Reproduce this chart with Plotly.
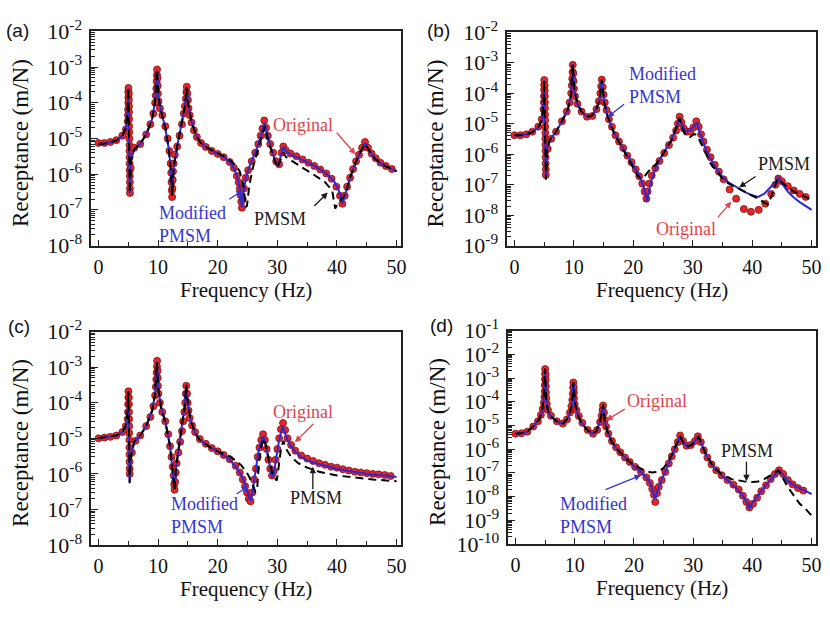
import plotly.graph_objects as go

# ---------------- data (frequency Hz, receptance m/N) ----------------
# panel (a)
a_original = [(0,7.5e-6),(1,7.5e-6),(2,8e-6),(3,9e-6),(4,1.2e-5),(4.6,1.8e-5),
 (4.9,3e-5),(4.95,4.5e-5),(4.97,6.5e-5),(5.0,1e-4),(5.0,1.4e-4),(5.0,2e-4),(5.02,2.6e-4),
 (5.1,1.8e-4),(5.1,1.2e-4),(5.12,8e-5),(5.12,5.5e-5),(5.14,3.5e-5),(5.15,2.2e-5),(5.16,1.5e-5),
 (5.18,1e-5),(5.2,6.5e-6),(5.2,4.5e-6),(5.22,3e-6),(5.22,2e-6),(5.24,1.3e-6),(5.25,9e-7),
 (5.26,6e-7),(5.27,4e-7),(5.28,3e-7),(5.4,1.5e-6),(6,5.5e-6),(7,7e-6),(8,1.3e-5),(8.7,2.5e-5),
 (9.2,5e-5),(9.5,1e-4),(9.6,1.6e-4),(9.7,2.5e-4),(9.75,4e-4),(9.8,6e-4),(9.82,8.5e-4),(9.9,5e-4),
 (9.93,3e-4),(9.96,1.8e-4),(10.05,1.1e-4),(10.3,7e-5),(10.7,4.5e-5),(11.2,2.2e-5),(11.6,1e-5),
 (11.9,4.5e-6),(12.1,2e-6),(12.2,1.1e-6),(12.25,6e-7),(12.3,3.5e-7),(12.35,2.3e-7),(12.4,4e-7),
 (12.45,7e-7),(12.5,1.2e-6),(12.6,2e-6),(12.8,3.5e-6),(13.2,6e-6),(13.6,1.2e-5),(14,2.5e-5),
 (14.3,5e-5),(14.5,8e-5),(14.65,1.3e-4),(14.75,2e-4),(14.8,2.8e-4),(14.9,1.8e-4),(15,1.2e-4),
 (15.1,7e-5),(15.3,4.5e-5),(15.6,2.8e-5),(16,1.7e-5),(16.5,1.1e-5),(17.2,7.5e-6),(18,5.8e-6),
 (19,4.5e-6),(20,3.7e-6),(21,3e-6),(22,2.2e-6),(22.7,1.5e-6),(23.2,9e-7),(23.5,6e-7),(23.7,4e-7),
 (23.85,2.6e-7),(23.95,1.7e-7),(24.05,1.15e-7),(24.2,2e-7),(24.4,4e-7),(24.7,8e-7),(25.1,1.3e-6),
 (25.7,2.3e-6),(26.3,4e-6),(26.8,7e-6),(27.2,1.2e-5),(27.5,1.9e-5),(27.8,3.2e-5),(28.1,2e-5),
 (28.4,1.2e-5),(28.8,7e-6),(29.3,4e-6),(29.8,2.3e-6),(30.3,1.9e-6),(30.7,4e-6),(31,6e-6),
 (31.4,4.7e-6),(32.2,3.8e-6),(33.2,3.2e-6),(34.2,2.6e-6),(35.2,2.1e-6),(36.2,1.7e-6),(37.2,1.35e-6),
 (38.2,1.05e-6),(39.1,7.5e-7),(39.9,4.5e-7),(40.5,2.5e-7),(40.9,1.5e-7),(41.3,2.5e-7),(41.7,4.5e-7),
 (42.2,8e-7),(42.7,1.4e-6),(43.2,2.3e-6),(43.7,3.5e-6),(44.2,5.5e-6),(44.7,8e-6),(45.2,5.5e-6),
 (45.8,3.8e-6),(46.5,2.8e-6),(47.3,2.1e-6),(48.2,1.7e-6),(49.2,1.4e-6)]
a_modified = [(0,7e-6),(1,7.2e-6),(2,7.8e-6),(3,8.8e-6),(4,1.2e-5),(4.6,2e-5),(4.9,6e-5),(5.0,2.5e-4),
 (5.1,2e-5),(5.25,3e-7),(5.45,2.5e-6),(6,5e-6),(7,7e-6),(8,1.3e-5),(9,3.5e-5),(9.5,1.1e-4),(9.8,8e-4),
 (10.1,1.3e-4),(10.6,5e-5),(11.2,2e-5),(11.8,5e-6),(12.15,1.2e-6),(12.35,2.5e-7),(12.6,1.5e-6),
 (13.2,6e-6),(14,3e-5),(14.5,8e-5),(14.8,2.6e-4),(15.1,8e-5),(15.6,3e-5),(16.3,1.3e-5),(17,8e-6),
 (18,5.8e-6),(19,4.6e-6),(20,3.8e-6),(21,3e-6),(22,2.2e-6),(22.8,1.4e-6),(23.4,7e-7),(23.8,3e-7),
 (24.05,1.2e-7),(24.3,3e-7),(24.8,9e-7),(25.5,2e-6),(26.5,5e-6),(27.3,1.3e-5),(27.8,2.8e-5),
 (28.3,1.3e-5),(29,5e-6),(29.7,2.3e-6),(30.2,1.7e-6),(30.6,3.5e-6),(31,5.8e-6),(31.5,4.3e-6),
 (32.5,3.4e-6),(34,2.6e-6),(36,1.8e-6),(38,1.1e-6),(39.5,6.5e-7),(40.3,3.5e-7),(40.9,1.5e-7),
 (41.4,2.8e-7),(42.3,9e-7),(43.3,2.5e-6),(44,4.5e-6),(44.7,7.5e-6),(45.4,4.5e-6),(46.3,2.8e-6),
 (47.5,1.9e-6),(48.7,1.5e-6),(50,1.2e-6)]
a_pmsm = [(0,7e-6),(1,7.2e-6),(2,7.8e-6),(3,8.8e-6),(4,1.2e-5),(4.6,2e-5),(4.9,6e-5),(5.0,2.6e-4),
 (5.1,2e-5),(5.25,3e-7),(5.45,2.5e-6),(6,5e-6),(7,7e-6),(8,1.3e-5),(9,3.5e-5),(9.5,1.1e-4),(9.8,8.5e-4),
 (10.1,1.3e-4),(10.6,5e-5),(11.2,2e-5),(11.8,5e-6),(12.15,1.2e-6),(12.35,2.5e-7),(12.6,1.5e-6),
 (13.2,6e-6),(14,3e-5),(14.5,8e-5),(14.8,2.7e-4),(15.1,8e-5),(15.6,3e-5),(16.3,1.3e-5),(17,8e-6),
 (18,5.8e-6),(19,4.7e-6),(20,3.9e-6),(21,3.2e-6),(22,2.5e-6),(23,1.8e-6),(23.7,1.2e-6),(24.2,6e-7),
 (24.5,2.5e-7),(24.7,1.2e-7),(24.9,1.3e-7),(25.3,5e-7),(26,1.8e-6),(26.8,5e-6),(27.4,1.2e-5),
 (27.9,2.2e-5),(28.4,9e-6),(29.2,3.5e-6),(30,1.5e-6),(30.4,2.2e-6),(31,4e-6),(31.5,3e-6),
 (32.5,2.3e-6),(34,1.6e-6),(36,1e-6),(38,6e-7),(39.2,3.5e-7),(39.7,1.1e-7),(40.2,1.6e-7),(41,2.2e-7),
 (41.5,3e-7),(42.3,9e-7),(43.3,2.5e-6),(44,4.5e-6),(44.7,7e-6),(45.4,4.5e-6),(46.3,2.8e-6),
 (47.5,1.9e-6),(48.7,1.5e-6),(50,1.2e-6)]

# panel (b)
b_original = [(0,4.2e-6),(1,4.2e-6),(2,4.5e-6),(3,5.5e-6),(4,8e-6),(4.6,1.4e-5),
 (4.9,3e-5),(4.95,5e-5),(4.97,8e-5),(5.0,1.3e-4),(5.0,1.9e-4),(5.02,2.7e-4),(5.1,1.8e-4),(5.1,1.2e-4),
 (5.12,8e-5),(5.13,5e-5),(5.14,3.2e-5),(5.15,2e-5),(5.16,1.3e-5),(5.18,8e-6),(5.2,5e-6),(5.2,3.2e-6),
 (5.22,2e-6),(5.23,1.3e-6),(5.24,8e-7),(5.25,5e-7),(5.27,3.2e-7),(5.28,2.1e-7),(5.6,1.5e-6),
 (6.2,3.2e-6),(7,5.5e-6),(8,1.2e-5),(8.8,2.5e-5),(9.3,5e-5),(9.55,1e-4),(9.65,1.8e-4),(9.72,3e-4),
 (9.78,5e-4),(9.82,8.5e-4),(9.9,4.5e-4),(9.95,2.5e-4),(10.02,1.4e-4),(10.2,8e-5),(10.6,4.5e-5),
 (11.3,2.5e-5),(12.2,1.7e-5),(13.1,1.8e-5),(13.8,3e-5),(14.2,5.5e-5),(14.45,1e-4),(14.6,1.7e-4),
 (14.7,2.8e-4),(14.85,1.6e-4),(15,9e-5),(15.2,5e-5),(15.5,2.8e-5),(15.9,1.4e-5),(16.4,8e-6),
 (17,4.2e-6),(17.6,2.6e-6),(18.3,1.6e-6),(19,9e-7),(19.7,5.5e-7),(20.4,3.2e-7),(21,1.9e-7),
 (21.5,1.1e-7),(21.9,6e-8),(22.2,3.5e-8),(22.4,6e-8),(22.7,1.1e-7),(23.1,2e-7),(23.7,3.5e-7),
 (24.4,6e-7),(25.2,1.1e-6),(26,2e-6),(26.7,3.5e-6),(27.2,6e-6),(27.5,1e-5),(27.8,1.7e-5),(28.1,1.1e-5),
 (28.5,7e-6),(29,5.5e-6),(29.6,5.5e-6),(30.1,7.5e-6),(30.6,1.2e-5),(31,8e-6),(31.4,4.5e-6),
 (31.8,2.6e-6),(32.4,1.4e-6),(33,8e-7),(33.7,4.5e-7),(34.4,2.7e-7),(35.2,1.5e-7),(36.2,7e-8),
 (37.3,3.5e-8),(38.6,1.6e-8),(39.8,1.3e-8),(41.1,1.5e-8),(42.2,2.4e-8),(43.2,5e-8),(43.9,1e-7),
 (44.4,1.6e-7),(45,1.3e-7),(46,9e-8),(47,6.5e-8),(48,5e-8),(49,4e-8)]
b_modified = [(0,4.2e-6),(1,4.2e-6),(2,4.5e-6),(3,5.3e-6),(4,7.5e-6),(4.6,1.3e-5),(4.9,5e-5),(5.0,2.6e-4),
 (5.1,2e-5),(5.3,1.5e-7),(5.5,1.5e-6),(6,3e-6),(7,5.5e-6),(8,1.2e-5),(9,3e-5),(9.5,8e-5),(9.8,9e-4),
 (10.1,1.2e-4),(10.6,4.5e-5),(11.3,2.5e-5),(12.2,1.7e-5),(13,1.8e-5),(13.8,3e-5),(14.3,6e-5),
 (14.7,2.7e-4),(15.1,5e-5),(15.6,2e-5),(16.3,8e-6),(17,4.2e-6),(18,1.9e-6),(19,9e-7),(20,4.3e-7),
 (21,2e-7),(21.7,9e-8),(22.1,4.5e-8),(22.3,2.8e-8),(22.6,6e-8),(23,1.3e-7),(23.5,2.5e-7),(24.4,6.5e-7),
 (25.3,1.3e-6),(26.2,2.5e-6),(27,5.5e-6),(27.5,1e-5),(27.8,1.6e-5),(28.2,9e-6),(28.8,5.5e-6),
 (29.5,6e-6),(30.2,8e-6),(30.7,1.1e-5),(31.2,5e-6),(32,1.8e-6),(33,7e-7),(34,3.3e-7),(35,1.8e-7),
 (36,1.2e-7),(37,9e-8),(38,7e-8),(39,5.5e-8),(40,4.5e-8),(41,4e-8),(42,5e-8),(43,8e-8),(44,1.3e-7),
 (44.4,1.8e-7),(45,1.1e-7),(46,6e-8),(47,3.8e-8),(48,2.7e-8),(49,2e-8),(50,1.5e-8)]
b_pmsm = [(0,4.2e-6),(1,4.2e-6),(2,4.5e-6),(3,5.3e-6),(4,7.5e-6),(4.6,1.3e-5),(4.9,5e-5),(5.0,2.7e-4),
 (5.1,2e-5),(5.3,1.5e-7),(5.5,1.5e-6),(6,3e-6),(7,5.5e-6),(8,1.2e-5),(9,3e-5),(9.5,8e-5),(9.8,9e-4),
 (10.1,1.2e-4),(10.6,4.5e-5),(11.3,2.5e-5),(12.2,1.7e-5),(13,1.8e-5),(13.8,3e-5),(14.3,6e-5),
 (14.7,2.8e-4),(15.1,5e-5),(15.6,2e-5),(16.3,8e-6),(17,4e-6),(18,1.8e-6),(19,8e-7),(20,3.5e-7),
 (20.7,2e-7),(21.3,1.6e-7),(21.8,1.8e-7),(22.5,2.7e-7),(23.5,4e-7),(24.5,7e-7),(25.5,1.4e-6),
 (26.5,3e-6),(27.2,7e-6),(27.8,1.5e-5),(28.3,7e-6),(28.8,4e-6),(29.5,3.6e-6),(30.3,4.6e-6),(30.8,4e-6),
 (31.5,2e-6),(32.2,1e-6),(33,5e-7),(34,2.8e-7),(35,1.6e-7),(36,1.1e-7),(37,8.5e-8),(38,7e-8),
 (39,5.5e-8),(40,4.5e-8),(41,3.5e-8),(42,2.6e-8),(42.6,2.3e-8),(43.2,4e-8),(43.8,9e-8),(44.3,1.6e-7),
 (45,1.2e-7),(46,8e-8),(47,6e-8),(48,4.8e-8),(49,3.8e-8),(50,3.2e-8)]

# panel (c)
c_original = [(0,1e-5),(1,1.05e-5),(2,1.1e-5),(3,1.2e-5),(4,1.5e-5),(4.6,2.2e-5),
 (4.9,3.5e-5),(4.95,5.5e-5),(4.98,9e-5),(5.0,1.4e-4),(5.02,2.1e-4),(5.1,1.4e-4),(5.11,9e-5),
 (5.12,5.5e-5),(5.14,3.5e-5),(5.15,2.2e-5),(5.16,1.4e-5),(5.18,9e-6),(5.19,5.5e-6),(5.2,3.5e-6),
 (5.21,2.2e-6),(5.22,1.4e-6),(5.23,1e-6),(5.6,4e-6),(6.2,8.5e-6),(7,1.2e-5),(8,2.2e-5),(8.7,4e-5),
 (9.2,8e-5),(9.5,1.6e-4),(9.62,2.8e-4),(9.7,4.5e-4),(9.76,7e-4),(9.8,1.05e-3),(9.83,1.5e-3),
 (9.9,8e-4),(9.93,5e-4),(9.97,3e-4),(10.05,1.8e-4),(10.3,1e-4),(10.7,5.5e-5),(11.2,3e-5),
 (11.7,1.3e-5),(12,6e-6),(12.25,3e-6),(12.45,1.6e-6),(12.6,9e-7),(12.7,5e-7),(12.75,3.6e-7),
 (12.85,6e-7),(12.95,1.1e-6),(13.1,2e-6),(13.4,4e-6),(13.7,8e-6),(14,1.6e-5),(14.2,3e-5),
 (14.4,5.5e-5),(14.55,1e-4),(14.65,1.8e-4),(14.72,3e-4),(14.85,1.8e-4),(14.95,1e-4),(15.1,6e-5),
 (15.3,3.7e-5),(15.7,2.3e-5),(16.2,1.5e-5),(17,9.5e-6),(18,7e-6),(19,5.3e-6),(20,4.3e-6),(21,3.4e-6),
 (22,2.6e-6),(23,1.7e-6),(23.7,1.1e-6),(24.2,7e-7),(24.6,4.5e-7),(24.9,3e-7),(25.2,2e-7),(25.5,1.7e-7),
 (25.8,3e-7),(26.1,7e-7),(26.4,1.4e-6),(26.7,3e-6),(27,5.5e-6),(27.3,9e-6),(27.6,1.3e-5),(27.9,9e-6),
 (28.2,5e-6),(28.5,2.5e-6),(28.8,1.4e-6),(29.1,9e-7),(29.4,1.2e-6),(29.7,2.5e-6),(30,5e-6),
 (30.3,1e-5),(30.6,1.8e-5),(30.95,2.7e-5),(31.3,1.7e-5),(31.7,1e-5),(32.3,6.5e-6),(33,4.5e-6),
 (34,3.3e-6),(35,2.7e-6),(36,2.3e-6),(37,2e-6),(38,1.8e-6),(39,1.6e-6),(40,1.5e-6),(41,1.35e-6),
 (42,1.25e-6),(43,1.15e-6),(44,1.1e-6),(45,1.05e-6),(46,1e-6),(47,9.7e-7),(48,9.3e-7),(49,8.8e-7)]
c_modified = [(0,1e-5),(1,1.05e-5),(2,1.1e-5),(3,1.2e-5),(4,1.5e-5),(4.6,2.3e-5),(4.9,6e-5),(5.0,2.1e-4),
 (5.1,3e-5),(5.22,6e-7),(5.4,3e-6),(6,8e-6),(7,1.2e-5),(8,2.2e-5),(9,6e-5),(9.5,1.8e-4),(9.8,1.4e-3),
 (10.1,2e-4),(10.6,6e-5),(11.2,3e-5),(12,6e-6),(12.5,1.2e-6),(12.75,3.6e-7),(13,1.5e-6),(13.6,8e-6),
 (14.2,4e-5),(14.5,9e-5),(14.7,3.2e-4),(15,9e-5),(15.5,3e-5),(16.2,1.4e-5),(17,9e-6),(18,6.8e-6),
 (19,5.2e-6),(20,4.2e-6),(21,3.3e-6),(22,2.5e-6),(23,1.6e-6),(24,9e-7),(24.7,4.5e-7),(25.3,2e-7),
 (25.6,1.8e-7),(25.9,4e-7),(26.4,1.5e-6),(26.9,5e-6),(27.4,9e-6),(27.7,1.1e-5),(28.1,6e-6),(28.6,2e-6),
 (29.1,8e-7),(29.4,1e-6),(29.8,3e-6),(30.3,9e-6),(30.9,2.2e-5),(31.4,1.2e-5),(32,7e-6),(33,4.2e-6),
 (34,3e-6),(35,2.4e-6),(36,2.1e-6),(38,1.7e-6),(40,1.4e-6),(42,1.2e-6),(44,1.05e-6),(46,9.5e-7),
 (48,9e-7),(50,8.2e-7)]
c_pmsm = [(0,1e-5),(1,1.05e-5),(2,1.1e-5),(3,1.2e-5),(4,1.5e-5),(4.6,2.3e-5),(4.9,6e-5),(5.0,2.1e-4),
 (5.1,3e-5),(5.22,5.5e-7),(5.4,3e-6),(6,8e-6),(7,1.2e-5),(8,2.2e-5),(9,6e-5),(9.5,1.8e-4),(9.8,1.4e-3),
 (10.1,2e-4),(10.6,6e-5),(11.2,3e-5),(12,6e-6),(12.5,1.2e-6),(12.75,3.6e-7),(13,1.5e-6),(13.6,8e-6),
 (14.2,4e-5),(14.5,9e-5),(14.7,3.2e-4),(15,9e-5),(15.5,3e-5),(16.2,1.4e-5),(17,9e-6),(18,6.8e-6),
 (19,5.2e-6),(20,4.3e-6),(21,3.7e-6),(22,3.1e-6),(23,2.4e-6),(24,1.7e-6),(25,1e-6),(25.7,6e-7),
 (26.3,3.2e-7),(26.6,3.5e-7),(26.9,2e-6),(27.3,6e-6),(27.8,1e-5),(28.2,5e-6),(28.7,2e-6),(29.3,9e-7),
 (29.9,6.5e-7),(30.2,1.5e-6),(30.6,5e-6),(31,8.5e-6),(31.5,5e-6),(32.3,3e-6),(33.5,2e-6),(35,1.5e-6),
 (37,1.15e-6),(40,9e-7),(43,7.8e-7),(46,7e-7),(50,6.2e-7)]

# panel (d)
d_original = [(0,4.5e-6),(1,4.7e-6),(2,5.5e-6),(3,9e-6),(3.8,1.5e-5),(4.3,2.8e-5),(4.6,5e-5),(4.8,9e-5),
 (4.9,1.6e-4),(4.95,2.8e-4),(4.97,5e-4),(5.0,9e-4),(5.01,1.5e-3),(5.02,2.4e-3),(5.1,1.4e-3),(5.11,8e-4),
 (5.12,4.5e-4),(5.15,2.5e-4),(5.2,1.4e-4),(5.3,8e-5),(5.5,4.5e-5),(6,2.6e-5),(7,1.5e-5),(8,1.2e-5),
 (8.7,1.8e-5),(9.2,3.5e-5),(9.45,6.5e-5),(9.6,1.2e-4),(9.7,2.2e-4),(9.75,4e-4),(9.78,6.5e-4),
 (9.85,4e-4),(9.88,2.5e-4),(9.9,1.4e-4),(10,8e-5),(10.3,4.5e-5),(10.7,2.5e-5),(11.3,1.3e-5),
 (12.2,6.5e-6),(13.1,4.5e-6),(13.8,6.5e-6),(14.3,1.4e-5),(14.55,2.6e-5),(14.7,4.5e-5),(14.8,7e-5),
 (14.95,3.5e-5),(15.1,1.7e-5),(15.3,9e-6),(15.7,4.5e-6),(16.3,2.2e-6),(17,1.2e-6),(17.7,7.5e-7),
 (18.5,4.5e-7),(19.3,2.9e-7),(20.2,1.8e-7),(21.2,1.1e-7),(22.1,6.5e-8),(22.7,3.8e-8),(23.1,2.1e-8),
 (23.4,1.2e-8),(23.6,6e-9),(23.9,1.4e-8),(24.2,2.6e-8),(24.7,5e-8),(25.3,1.1e-7),(25.9,2.5e-7),
 (26.4,5e-7),(26.9,1e-6),(27.4,2e-6),(27.8,3.8e-6),(28.3,2.2e-6),(28.9,1.4e-6),(29.6,1.5e-6),
 (30.3,2.2e-6),(30.8,3.5e-6),(31.3,2e-6),(31.8,9e-7),(32.4,4.5e-7),(33.1,2.3e-7),(33.9,1.3e-7),
 (34.8,8e-8),(35.8,5e-8),(36.8,3.2e-8),(37.7,2e-8),(38.4,1.1e-8),(39,6e-9),(39.5,3.5e-9),(40.1,5e-9),
 (40.8,9e-9),(41.5,1.7e-8),(42.3,3e-8),(43.1,5.5e-8),(43.8,9e-8),(44.5,1.3e-7),(45.2,9e-8),(46,5e-8),
 (46.8,3.3e-8),(47.7,2.3e-8),(48.6,1.8e-8)]
d_modified = [(0,4.5e-6),(1,4.7e-6),(2,5.5e-6),(3,9e-6),(4,1.8e-5),(4.5,4e-5),(4.8,1.5e-4),(5.0,2.4e-3),
 (5.2,1.2e-4),(5.5,4e-5),(6,2.4e-5),(7,1.5e-5),(8,1.2e-5),(8.7,1.8e-5),(9.3,4e-5),(9.6,1e-4),(9.8,6.5e-4),
 (10.1,8e-5),(10.5,3e-5),(11,1.5e-5),(12,7e-6),(13,4.5e-6),(13.7,6e-6),(14.3,1.5e-5),(14.6,3.5e-5),
 (14.8,7e-5),(15.1,1.5e-5),(15.5,6e-6),(16.2,2.2e-6),(17,1.1e-6),(18,6e-7),(19,3.3e-7),(20,1.9e-7),
 (21,1.2e-7),(22,7e-8),(22.8,3.5e-8),(23.3,1.5e-8),(23.6,8e-9),(23.9,1.5e-8),(24.5,4e-8),(25.5,1.5e-7),
 (26.5,6e-7),(27.3,1.8e-6),(27.8,3.7e-6),(28.3,2e-6),(29,1.3e-6),(29.8,1.6e-6),(30.5,2.7e-6),
 (30.9,3.5e-6),(31.5,1.5e-6),(32.3,5e-7),(33.5,1.7e-7),(35,7e-8),(36.5,3.5e-8),(37.5,2e-8),(38.5,1e-8),
 (39.2,5e-9),(39.5,3.2e-9),(39.9,5e-9),(40.8,1e-8),(41.8,2.2e-8),(43,5e-8),(44,1e-7),(44.5,1.3e-7),
 (45.2,8e-8),(46,4.5e-8),(47,3e-8),(48,2.2e-8),(49,1.7e-8),(50,1.3e-8)]
d_pmsm = [(0,4.5e-6),(1,4.7e-6),(2,5.5e-6),(3,9e-6),(4,1.8e-5),(4.5,4e-5),(4.8,1.5e-4),(5.0,2.5e-3),
 (5.2,1.2e-4),(5.5,4e-5),(6,2.4e-5),(7,1.5e-5),(8,1.2e-5),(8.7,1.8e-5),(9.3,4e-5),(9.6,1e-4),(9.8,6.8e-4),
 (10.1,8e-5),(10.5,3e-5),(11,1.5e-5),(12,7e-6),(13,4.5e-6),(13.7,6e-6),(14.3,1.5e-5),(14.6,3.5e-5),
 (14.8,7.5e-5),(15.1,1.5e-5),(15.5,6e-6),(16.2,2.2e-6),(17,1.1e-6),(18,6e-7),(19,3.4e-7),(20,2.2e-7),
 (21,1.6e-7),(22,1.2e-7),(23,1.05e-7),(24,1.1e-7),(25,1.6e-7),(25.8,3e-7),(26.5,6.5e-7),(27.3,1.8e-6),
 (27.8,3.5e-6),(28.3,2e-6),(29,1.3e-6),(29.8,1.5e-6),(30.5,2.6e-6),(30.9,3.3e-6),(31.5,1.5e-6),
 (32.3,5e-7),(33.5,1.7e-7),(35,8e-8),(36.5,5.5e-8),(38,4.5e-8),(39,4.2e-8),(40,4.2e-8),(41,4.4e-8),
 (42,5.5e-8),(43,7.5e-8),(44,1.1e-7),(44.4,1.3e-7),(45,7e-8),(46,2.5e-8),(47,1.1e-8),(48,5e-9),
 (49,3e-9),(50,1.6e-9)]

x_ticks = [0, 10, 20, 30, 40, 50]
x_minor_ticks = [5, 15, 25, 35, 45]
panel_labels = ["(a)", "(b)", "(c)", "(d)"]
y_decades = [(-8, -2), (-9, -2), (-8, -2), (-10, -1)]
x_title = "Frequency (Hz)"
y_title = "Receptance (m/N)"

# ---------------- styling ----------------
W, H = 830, 621
SERIF = "Liberation Serif, Times New Roman, serif"
SANS = "Liberation Sans, Arial, sans-serif"
RED = "#e3262b"
RED_T = "#e0454a"
BLUE = "#2a2ad6"
BLUE_T = "#3535cf"
BLACK_T = "#1a1a1a"
AX = "#222222"

# plot areas in pixels: (left, right, top, bottom)
boxes = [(92, 404, 16, 241), (511, 822, 17, 241), (92, 404, 331, 555), (512, 822, 330, 554)]

data_sets = [(a_original, a_modified, a_pmsm), (b_original, b_modified, b_pmsm),
             (c_original, c_modified, c_pmsm), (d_original, d_modified, d_pmsm)]

fig = go.Figure()
layout = {}
annotations = []
for i, ((orig, mod, pm), (l, r, t, b), (ylo, yhi)) in enumerate(zip(data_sets, boxes, y_decades)):
    xa = "x" if i == 0 else f"x{i+1}"
    ya = "y" if i == 0 else f"y{i+1}"
    fig.add_trace(go.Scatter(x=[p[0] for p in orig], y=[p[1] for p in orig], mode="markers",
                             marker=dict(size=7, color=RED, line=dict(color="#8a0c0c", width=0.8)),
                             xaxis=xa, yaxis=ya, showlegend=False, name="Original"))
    fig.add_trace(go.Scatter(x=[p[0] for p in mod], y=[p[1] for p in mod], mode="lines",
                             line=dict(color=BLUE, width=2), xaxis=xa, yaxis=ya,
                             showlegend=False, name="Modified PMSM"))
    fig.add_trace(go.Scatter(x=[p[0] for p in pm], y=[p[1] for p in pm], mode="lines",
                             line=dict(color="black", width=2, dash="8px,5px"), xaxis=xa, yaxis=ya,
                             showlegend=False, name="PMSM"))
    xk = "xaxis" if i == 0 else f"xaxis{i+1}"
    yk = "yaxis" if i == 0 else f"yaxis{i+1}"
    layout[xk] = dict(
        domain=[l / W, r / W], anchor=ya, range=[-1.2, 50.75],
        tickmode="array", tickvals=x_ticks, ticks="inside", ticklen=6, tickwidth=1.3, tickcolor=AX,
        minor=dict(tickmode="array", tickvals=x_minor_ticks, ticks="inside", ticklen=4, tickcolor=AX),
        showline=True, linecolor=AX, linewidth=1.6, mirror=True, showgrid=False, zeroline=False,
        tickfont=dict(family=SERIF, size=20, color="#111"), ticklabelstandoff=2,
        ticklabeloverflow="allow",
    )
    decs = list(range(ylo, yhi + 1))
    minor_vals = [m * 10.0 ** e for e in range(ylo, yhi) for m in range(2, 10)]
    layout[yk] = dict(
        domain=[1 - b / H, 1 - t / H], anchor=xa, type="log", range=[ylo, yhi],
        tickmode="array", tickvals=[10.0 ** e for e in decs],
        ticktext=[f"10<sup>{e}</sup>" for e in decs],
        ticks="inside", ticklen=7, tickwidth=1.3, tickcolor=AX,
        minor=dict(tickmode="array", tickvals=minor_vals, ticks="inside", ticklen=4, tickcolor=AX),
        showline=True, linecolor=AX, linewidth=1.6, mirror=True, showgrid=False, zeroline=False,
        tickfont=dict(family=SERIF, size=22, color="#111"), ticklabelstandoff=3,
        ticklabeloverflow="allow",
    )
    # axis titles as paper annotations
    annotations.append(dict(text=x_title, x=(l + r) / 2 / W, y=1 - (b + 46) / H, xref="paper",
                            yref="paper", xanchor="center", yanchor="middle", showarrow=False,
                            font=dict(family=SERIF, size=21, color="#111")))
    annotations.append(dict(text=y_title, x=(l - 72) / W, y=1 - ((t + b) / 2 + 5) / H, xref="paper",
                            yref="paper", xanchor="center", yanchor="middle", textangle=-90,
                            showarrow=False, font=dict(family=SERIF, size=23, color="#111")))

# panel labels
for lab, (px, py) in zip(panel_labels, [(4, 15), (428, 15), (6, 326), (431, 325)]):
    annotations.append(dict(text=lab, x=px / W, y=1 - py / H, xref="paper", yref="paper",
                            xanchor="left", yanchor="middle", showarrow=False,
                            font=dict(family=SANS, size=19, color="#111")))

# text labels (pixel centres)
texts = [
    ("Original", 305, 114, RED_T, "center"), ("Modified<br>PMSM", 158, 219, BLUE_T, "left"),
    ("PMSM", 282, 213, BLACK_T, "center"),
    ("Modified<br>PMSM", 632, 73, BLUE_T, "left"), ("PMSM", 790, 155, BLACK_T, "center"),
    ("Original", 691, 223, RED_T, "center"),
    ("Original", 305, 415, RED_T, "center"), ("Modified<br>PMSM", 170, 524, BLUE_T, "left"),
    ("PMSM", 318, 506, BLACK_T, "center"),
    ("Original", 662, 404, RED_T, "center"), ("PMSM", 752, 456, BLACK_T, "center"),
    ("Modified<br>PMSM", 562, 524, BLUE_T, "left"),
]
for txt, px, py, col, anc in texts:
    annotations.append(dict(text=txt, x=px / W, y=1 - py / H, xref="paper", yref="paper",
                            xanchor=anc, yanchor="middle", align=anc, showarrow=False,
                            font=dict(family=SERIF, size=18, color=col)))

# arrows: (panel index, head x [Hz], head log10 y, ax, ay, colour)
arrows = [
    (0, 43.1, -5.44, -20, -23, RED_T), (0, 24.2, -6.45, -15, 10, BLUE_T), (0, 38.45, -6.51, -15, 15, BLACK_T),
    (1, 15.67, -4.78, 18, -14, BLUE_T), (1, 37.8, -7.09, 18, -12, BLACK_T), (1, 36.5, -7.56, -15, 17, RED_T),
    (2, 32.95, -5.11, 20, -20, RED_T), (2, 25.1, -6.34, -13, 9, BLUE_T), (2, 35.95, -5.8, 0, 24, BLACK_T),
    (3, 15.33, -4.78, 20, -12, RED_T), (3, 39.0, -7.35, 0, -21, BLACK_T), (3, 21.2, -7.1, -37, 15, BLUE_T),
]
for pi, hx, hy, ax, ay, col in arrows:
    xr = "x" if pi == 0 else f"x{pi+1}"
    yr = "y" if pi == 0 else f"y{pi+1}"
    annotations.append(dict(text="", x=hx, y=hy, xref=xr, yref=yr, ax=ax, ay=ay,
                            showarrow=True, arrowhead=2, arrowsize=1, arrowwidth=1.3,
                            arrowcolor=col, standoff=0, startstandoff=0))

fig.update_layout(
    width=W, height=H, margin=dict(l=0, r=0, t=0, b=0),
    paper_bgcolor="white", plot_bgcolor="white", showlegend=False,
    annotations=annotations, **layout,
)
fig.write_html("out.html", config={"displayModeBar": False},
               post_script="document.body.style.margin='0';document.body.style.overflow='hidden';")
